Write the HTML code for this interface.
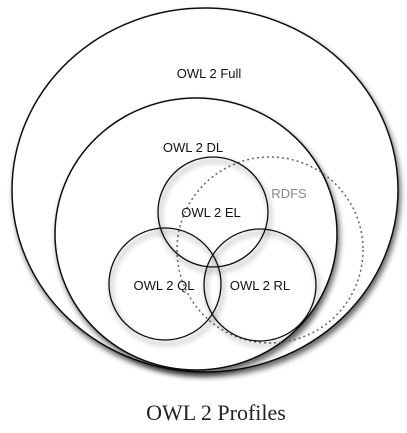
<!DOCTYPE html>
<html><head><meta charset="utf-8"><style>
html,body{margin:0;padding:0;background:#fff;width:407px;height:433px;overflow:hidden}
svg{display:block}
text{font-family:"Liberation Sans",sans-serif;font-size:13px;fill:#111}
</style></head><body>
<svg width="407" height="433">
<defs>
<filter id="sh" x="-20%" y="-20%" width="140%" height="140%">
<feGaussianBlur in="SourceAlpha" stdDeviation="3"/>
<feOffset dx="2" dy="4" result="b"/>
<feComponentTransfer><feFuncA type="linear" slope="0.6"/></feComponentTransfer>
<feMerge><feMergeNode/><feMergeNode in="SourceGraphic"/></feMerge>
</filter>
</defs>
<ellipse cx="205" cy="190" rx="193" ry="182" fill="#fff" stroke="#111" stroke-width="1.5" filter="url(#sh)"/>
<ellipse cx="196" cy="234" rx="141" ry="136" fill="#fff" stroke="#111" stroke-width="1.5" filter="url(#sh)"/>
<circle cx="270" cy="250" r="93" fill="none" stroke="#666" stroke-width="1.5" stroke-dasharray="2,3"/>
<circle cx="213" cy="212" r="55" fill="none" stroke="#111" stroke-width="1.3" filter="url(#sh)"/>
<circle cx="165" cy="284" r="56" fill="none" stroke="#111" stroke-width="1.3" filter="url(#sh)"/>
<circle cx="260" cy="285" r="56" fill="none" stroke="#111" stroke-width="1.3" filter="url(#sh)"/>
<text x="209" y="78" text-anchor="middle">OWL 2 Full</text>
<text x="193" y="152" text-anchor="middle">OWL 2 DL</text>
<text x="289" y="198" text-anchor="middle" style="fill:#888">RDFS</text>
<text x="211" y="217" text-anchor="middle">OWL 2 EL</text>
<text x="164" y="290" text-anchor="middle">OWL 2 QL</text>
<text x="260" y="290" text-anchor="middle">OWL 2 RL</text>
<text x="216" y="420" text-anchor="middle" style="font-family:'Liberation Serif',serif;font-size:22px;fill:#222">OWL 2 Profiles</text>
</svg>
</body></html>
